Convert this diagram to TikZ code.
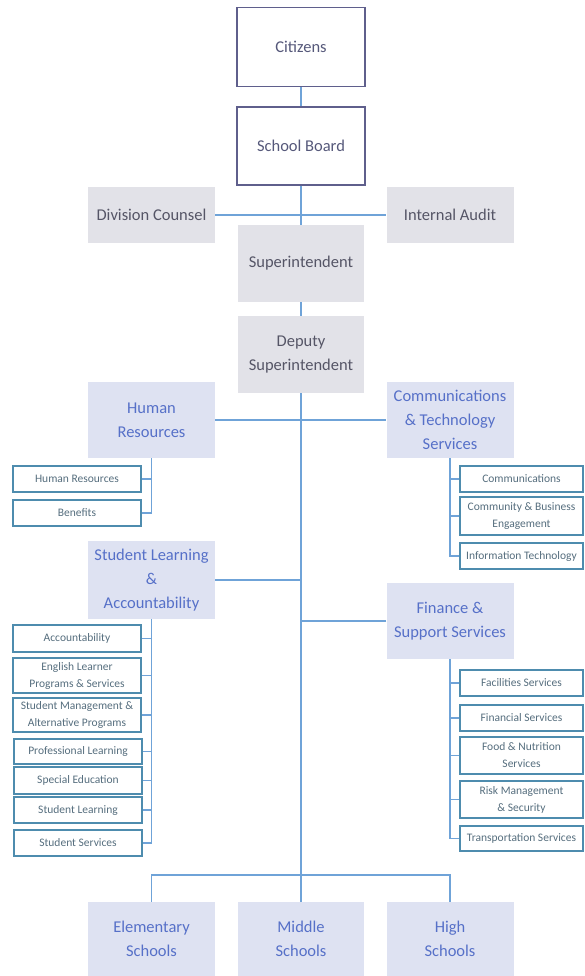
\documentclass[tikz,border=0pt]{standalone}
\usepackage{fontspec}
\setmainfont{Carlito}
\definecolor{topborder}{HTML}{5F5F8C}
\definecolor{toptext}{HTML}{55587A}
\definecolor{grayfill}{HTML}{E2E2E8}
\definecolor{graytext}{HTML}{555566}
\definecolor{lavfill}{HTML}{DEE2F2}
\definecolor{lavtext}{HTML}{5670C8}
\definecolor{subborder}{HTML}{4E8CAE}
\definecolor{subtext}{HTML}{566E7E}
\definecolor{conn}{HTML}{6FA3D8}
\tikzset{
  bigfont/.style={font=\fontsize{16.5}{24}\selectfont},
  box/.style={rectangle, inner sep=0pt, align=center},
  topbox/.style={box, bigfont, draw=topborder, line width=1.5pt, fill=white, text=toptext, minimum width=128pt, minimum height=79pt},
  graybox/.style={box, bigfont, fill=grayfill, text=graytext, minimum width=127pt},
  lavbox/.style={box, bigfont, fill=lavfill, text=lavtext, minimum width=127pt},
  subbox/.style={box, font=\fontsize{11.5}{17}\selectfont, draw=subborder, line width=1.3pt, fill=white, text=subtext, minimum width=128pt},
  rsub/.style={subbox, minimum width=123pt},
  link/.style={draw=conn, line width=1.4pt}
}
\begin{document}
\begin{tikzpicture}[x=1pt,y=-1pt]
\useasboundingbox (0,0) rectangle (584,976);
% top
\node[topbox] (cit) at (301,47) {Citizens};
\node[topbox, minimum height=78pt] (sb) at (301,146) {School Board};
\node[graybox, minimum height=56pt] (dc) at (151.5,215) {Division Counsel};
\node[graybox, minimum height=56pt] (ia) at (450,215) {Internal Audit};
\node[graybox, minimum width=126pt, minimum height=77pt] (sup) at (301,263.5) {Superintendent};
\node[graybox, minimum width=126pt, minimum height=77pt] (dep) at (301,354.5) {Deputy\\Superintendent};
% level 2
\node[lavbox, minimum height=76pt] (hr) at (151.5,420) {Human\\Resources};
\node[lavbox, minimum height=76pt] (cts) at (450,420) {Communications\\\& Technology\\Services};
\node[lavbox, minimum height=78pt] (sla) at (151.5,580) {Student Learning\\\&\\Accountability};
\node[lavbox, minimum height=76pt] (fss) at (450,621) {Finance \&\\Support Services};
% HR children
\node[subbox, minimum height=26pt] (hr1) at (77,479) {Human Resources};
\node[subbox, minimum height=26pt] (hr2) at (77,513) {Benefits};
% CTS children
\node[rsub, minimum height=26pt] (c1) at (521.5,479) {Communications};
\node[rsub, minimum height=38pt] (c2) at (521.5,516) {Community \& Business\\Engagement};
\node[rsub, minimum height=26pt] (c3) at (521.5,556) {Information Technology};
% SLA children
\node[subbox, minimum height=27pt] (s1) at (77,638.5) {Accountability};
\node[subbox, minimum height=35pt] (s2) at (77,675.5) {English Learner\\Programs \& Services};
\node[subbox, minimum height=34pt] (s3) at (77,715) {Student Management \&\\Alternative Programs};
\node[subbox, minimum height=25pt] (s4) at (78,751.5) {Professional Learning};
\node[subbox, minimum height=27pt] (s5) at (78,780.5) {Special Education};
\node[subbox, minimum height=26pt] (s6) at (78,810) {Student Learning};
\node[subbox, minimum height=26pt] (s7) at (78,843) {Student Services};
% FSS children
\node[rsub, minimum height=26pt] (f1) at (521.5,683) {Facilities Services};
\node[rsub, minimum height=26pt] (f2) at (521.5,718) {Financial Services};
\node[rsub, minimum height=37pt] (f3) at (521.5,755.5) {Food \& Nutrition\\Services};
\node[rsub, minimum height=37pt] (f4) at (521.5,799.5) {Risk Management\\\& Security};
\node[rsub, minimum height=25pt] (f5) at (521.5,838.5) {Transportation Services};
% schools
\node[lavbox, minimum height=74pt] (el) at (151.5,939) {Elementary\\Schools};
\node[lavbox, minimum height=74pt, minimum width=126pt] (mi) at (301,939) {Middle\\Schools};
\node[lavbox, minimum height=74pt] (hi) at (450,939) {High\\Schools};
\coordinate (J) at (301,875);
% connectors
\path[link] (cit.south) -- (sb.north);
\path[link] (sb.south) -- (sup.north);
\path[link] (dc.east) -- (ia.west);
\path[link] (sup.south) -- (dep.north);
\path[link] (dep.south) -- (J);
\path[link] (hr.east) -- (cts.west);
\path[link] (sla.east) -- (sla.east -| dep.south);
\path[link] (fss.west) -- (fss.west -| dep.south);
\path[link] (el.north) |- (J) -| (hi.north);
\path[link] (J) -- (mi.north);
% HR tree
\path[link] (hr.south) |- (hr2.east);
\path[link] (hr1.east) -- (hr1.east -| hr.south);
% CTS tree
\path[link] (cts.south) |- (c3.west);
\foreach \n in {c1,c2} \path[link] (\n.west) -- (\n.west -| cts.south);
% SLA tree
\path[link] (sla.south) |- (s7.east);
\foreach \n in {s1,s2,s3,s4,s5,s6} \path[link] (\n.east) -- (\n.east -| sla.south);
% FSS tree
\path[link] (fss.south) |- (f5.west);
\foreach \n in {f1,f2,f3,f4} \path[link] (\n.west) -- (\n.west -| fss.south);
\end{tikzpicture}
\end{document}
